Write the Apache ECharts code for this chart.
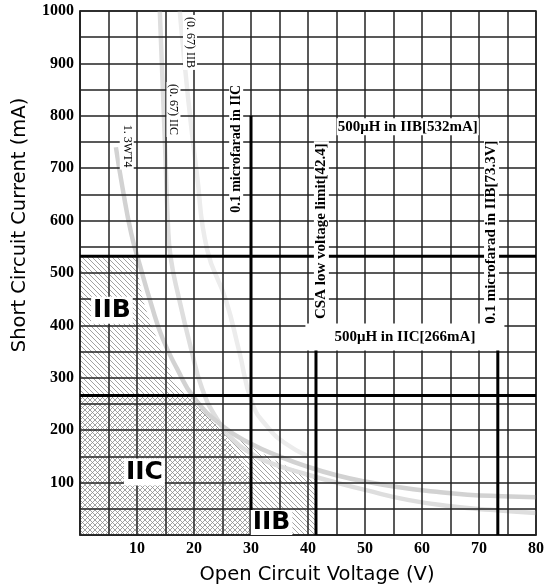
<!DOCTYPE html>
<html><head><meta charset="utf-8">
<script src="https://cdn.jsdelivr.net/npm/echarts@6/dist/echarts.min.js"></script>
<style>html,body{margin:0;padding:0;background:#fff}#c{width:547px;height:588px}</style>
</head><body><div id="c"></div>
<script>
// ---------- data (volts, mA) ----------
const xMin = 0, xMax = 80, xStep = 5;
const yMin = 0, yMax = 1000, yStep = 50;
const xLabelTicks = [10, 20, 30, 40, 50, 60, 70, 80];
const yLabelTicks = [100, 200, 300, 400, 500, 600, 700, 800, 900, 1000];

const curve13WT4 = [[6.3,740],[7.5,660],[9,575],[10.5,515],[12.5,440],[14.5,375],[17,318],[20,262],[25,208],[30,174],[35,150],[40,130],[45,114],[50,102],[56,91],[62,83],[68,77],[74,74],[80,72]];
const curveIIC067 = [[14,1000],[14.5,860],[15,720],[15.4,600],[15.9,530],[17.4,450],[19.5,355],[21.4,280],[24,222],[27,180],[30,156],[33,139],[40,115],[45,100],[50,86],[57.5,67],[65,55],[72,48],[80,42]];
const curveIIB067 = [[17.5,1000],[19,830],[20.5,690],[22.3,545],[25.6,448],[27.9,352],[30.2,252],[33,205],[36,175],[40,150]];

const regionIIB = [[0,532],[9.8,532],[10.2,500],[11,450],[12.5,400],[14.5,350],[16.3,300],[18.5,266],[20,250],[25,205],[30,168],[35,138],[41.4,108],[41.4,0]];
const regionIIC = [[0,266],[19.3,266],[20,252],[22.5,226],[25,198],[27.5,155],[30,108],[30,0]];

const limitLinesV = [[30, 0, 800], [41.4, 0, 360], [73.3, 0, 360]];   // [volts, from mA, to mA]
const limitLinesH = [532, 266];                                       // mA across full width

// ---------- annotations ----------
const SERIF = '"Liberation Serif","Times New Roman",serif';
const annotations = [
  {text:'1. 3WT4', at:[8.2,742], rot:-90, font:'normal 12px '+SERIF, pad:[1,2]},
  {text:'(0. 67) IIC', at:[16.4,812], rot:-90, font:'normal 12px '+SERIF, pad:[1,2]},
  {text:'(0. 67) IIB', at:[19.3,940], rot:-90, font:'normal 12px '+SERIF, pad:[1,2]},
  {text:'0.1 microfarad in IIC', at:[27.4,737], rot:90, font:'bold 14px '+SERIF, pad:[0,1]},
  {text:'CSA low voltage limit[42.4]', at:[42.35,580], rot:90, font:'bold 15px '+SERIF, pad:[0,2]},
  {text:'0.1 microfarad in IIB[73.3V]', at:[72.2,578], rot:90, font:'bold 15px '+SERIF, pad:[0,2]},
  {text:'500μH in IIB[532mA]', at:[57.5,779], rot:0, font:'bold 15px '+SERIF, pad:[1,1]},
  {text:'500μH in IIC[266mA]', at:[57,378], rot:0, font:'bold 15px '+SERIF, pad:[6,29]},
  {text:'IIB', at:[5.6,429], rot:0, font:'bold 25px "DejaVu Sans",sans-serif', pad:[1,2]},
  {text:'IIC', at:[11.3,120], rot:0, font:'bold 25px "DejaVu Sans",sans-serif', pad:[1,2]},
  {text:'IIB', at:[33.6,24], rot:0, font:'bold 25px "DejaVu Sans",sans-serif', pad:[0,2]}
];

function hatch(cross){
  const s = 5, c = document.createElement('canvas');
  c.width = s; c.height = s;
  const g = c.getContext('2d');
  g.fillStyle = '#fff'; g.fillRect(0,0,s,s);
  g.strokeStyle = '#8a8a8a'; g.lineWidth = 0.8;
  g.beginPath();
  g.moveTo(-1,-1); g.lineTo(s+1,s+1);
  if (cross) { g.moveTo(-1,s+1); g.lineTo(s+1,-1); }
  g.stroke();
  return c;
}

const chart = echarts.init(document.getElementById('c'), null, {renderer:'canvas'});
const gridColor = '#222';
const series = [
  {type:'line', data:regionIIB, showSymbol:false, silent:true, z:1,
   lineStyle:{width:0}, areaStyle:{color:{image:hatch(false), repeat:'repeat'}, opacity:1}},
  {type:'line', data:regionIIC, showSymbol:false, silent:true, z:1,
   lineStyle:{width:0}, areaStyle:{color:{image:hatch(true), repeat:'repeat'}, opacity:1}},
  {type:'line', data:curveIIB067, smooth:true, showSymbol:false, silent:true, z:2,
   lineStyle:{color:'#ececec', width:4.5}},
  {type:'line', data:curveIIC067, smooth:true, showSymbol:false, silent:true, z:2,
   lineStyle:{color:'#dedede', width:4.5}},
  {type:'line', data:curve13WT4, smooth:true, showSymbol:false, silent:true, z:2,
   lineStyle:{color:'#d2d2d2', width:4.5}}
];
limitLinesV.forEach(l => series.push({type:'line', data:[[l[0],l[1]],[l[0],l[2]]], showSymbol:false, silent:true, z:6,
  lineStyle:{color:'#000', width:3}}));
limitLinesH.forEach(v => series.push({type:'line', data:[[xMin,v],[xMax,v]], showSymbol:false, silent:true, z:6,
  lineStyle:{color:'#000', width:3}}));

chart.setOption({
  animation:false,
  backgroundColor:'#fff',
  grid:{left:80, top:11, width:459, height:524, show:true, borderColor:gridColor, borderWidth:1.5, containLabel:false},
  xAxis:{type:'value', min:xMin, max:xMax, interval:xStep, z:4,
    axisLine:{show:true, lineStyle:{color:gridColor, width:1.5}}, axisTick:{show:false},
    splitLine:{show:true, lineStyle:{color:gridColor, width:1.5}},
    axisLabel:{margin:6, color:'#000', fontFamily:SERIF, fontWeight:'bold', fontSize:16,
      formatter:v => xLabelTicks.includes(v) ? String(v) : ''}},
  yAxis:{type:'value', min:yMin, max:yMax, interval:yStep, z:4,
    axisLine:{show:true, lineStyle:{color:gridColor, width:1.5}}, axisTick:{show:false},
    splitLine:{show:true, lineStyle:{color:gridColor, width:1.5}},
    axisLabel:{margin:6, color:'#000', fontFamily:SERIF, fontWeight:'bold', fontSize:16,
      formatter:v => yLabelTicks.includes(v) ? String(v) : ''}},
  series: series
});

const graphics = annotations.map(a => {
  const p = chart.convertToPixel({gridIndex:0}, a.at);
  return {type:'text', x:p[0], y:p[1], rotation:a.rot*Math.PI/180, z:100, silent:true,
    style:{text:a.text, font:a.font, fill:'#000', align:'center', verticalAlign:'middle',
      backgroundColor:'#fff', padding:a.pad}};
});
graphics.push({type:'text', x:19.5, y:225, rotation:Math.PI/2, z:100, silent:true,
  style:{text:'Short Circuit Current (mA)', font:'19.5px "DejaVu Sans",sans-serif', fill:'#000', align:'center', verticalAlign:'middle'}});
graphics.push({type:'text', x:317, y:575, z:100, silent:true,
  style:{text:'Open Circuit Voltage (V)', font:'19.5px "DejaVu Sans",sans-serif', fill:'#000', align:'center', verticalAlign:'middle'}});
chart.setOption({graphic:graphics});
</script>
</body></html>
